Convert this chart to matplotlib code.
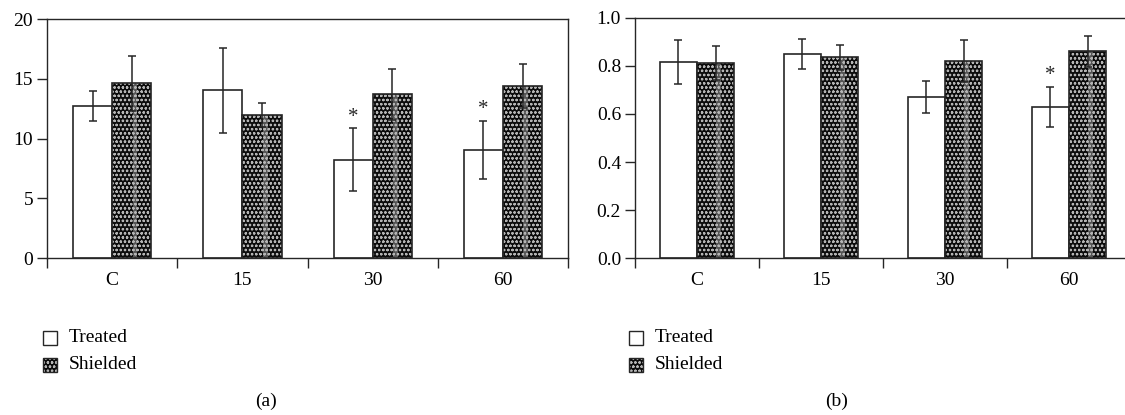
import matplotlib.pyplot as plt
import numpy as np

plt.rcParams['font.family'] = ['Liberation Serif', 'DejaVu Serif']
plt.rcParams['hatch.linewidth'] = 0.6

groups = ["C", "15", "30", "60"]

# panel (a)
treated_a = [12.75, 14.05, 8.25, 9.05]
treated_a_err = [1.25, 3.55, 2.65, 2.45]
shielded_a = [14.65, 11.95, 13.7, 14.4]
shielded_a_err = [2.3, 1.0, 2.15, 1.85]
stars_a = [False, False, True, True]

# panel (b)
treated_b = [0.815, 0.85, 0.67, 0.63]
treated_b_err = [0.092, 0.063, 0.068, 0.084]
shielded_b = [0.811, 0.837, 0.821, 0.86]
shielded_b_err = [0.071, 0.052, 0.088, 0.063]
stars_b = [False, False, False, True]

dark = "#262626"
width = 0.3
fs = 14
hatch = "oooo"
hcol = "#b4b4b4"


def panel(ax, treated, t_err, shielded, s_err, stars, ymax, yticks, fmt):
    x = np.arange(len(groups))
    ax.bar(x - width / 2, treated, width, color="white", edgecolor=dark, linewidth=1.2, zorder=2)
    # shielded: dark fill with fine dotted hatch, plus a faint lighter stripe
    ax.bar(x + width / 2, shielded, width, color="#0c0c0c", edgecolor=hcol,
           hatch=hatch, linewidth=0, zorder=2)
    ax.bar(x + width / 2 + 0.025, shielded, width * 0.12, color="#555555", edgecolor=hcol,
           hatch=hatch, linewidth=0, zorder=2)
    ax.bar(x + width / 2, shielded, width, color="none", edgecolor=dark, linewidth=1.2, zorder=3)
    ax.errorbar(x - width / 2, treated, yerr=t_err, fmt="none", ecolor=dark,
                elinewidth=1.1, capsize=3, capthick=1.1, zorder=4)
    ax.errorbar(x + width / 2, shielded, yerr=s_err, fmt="none", ecolor=dark,
                elinewidth=1.1, capsize=3, capthick=1.1, zorder=4)
    for i in range(len(groups)):
        if stars[i]:
            ax.text(x[i] - width / 2, treated[i] + t_err[i] + ymax * 0.005, "*",
                    ha="center", va="bottom", fontsize=15, color=dark)

    ax.set_xlim(-0.5, len(groups) - 0.5)
    ax.set_ylim(0, ymax)
    ax.set_xticks(x)
    ax.set_xticklabels(groups, fontsize=fs)
    ax.set_xticks(np.arange(len(groups) + 1) - 0.5, minor=True)
    ax.tick_params(axis="x", which="major", length=0, pad=10)
    ax.tick_params(axis="x", which="minor", length=7, width=1, color=dark, direction="out")
    ax.set_yticks(yticks)
    ax.set_yticklabels([fmt.format(v) for v in yticks], fontsize=fs)
    ax.tick_params(axis="y", length=7, width=1, color=dark, direction="out", pad=3)
    for s in ax.spines.values():
        s.set_color(dark)
        s.set_linewidth(1)


fig = plt.figure(figsize=(11.25, 4.15), dpi=100)

ax1 = fig.add_axes([0.0418, 0.378, 0.4632, 0.576])
panel(ax1, treated_a, treated_a_err, shielded_a, shielded_a_err, stars_a,
      20, [0, 5, 10, 15, 20], "{:.0f}")

ax2 = fig.add_axes([0.5644, 0.378, 0.4409, 0.579])
panel(ax2, treated_b, treated_b_err, shielded_b, shielded_b_err, stars_b,
      1.0, [0.0, 0.2, 0.4, 0.6, 0.8, 1.0], "{:.1f}")

# legends drawn as patches + text in figure coords
for lx, cap, cx in [(43, "(a)", 266), (629, "(b)", 837)]:
    fig.patches.append(plt.Rectangle((lx / 1125, 1 - 345 / 415), 14 / 1125, 14 / 415,
                                     transform=fig.transFigure, facecolor="white",
                                     edgecolor=dark, linewidth=1))
    fig.patches.append(plt.Rectangle((lx / 1125, 1 - 372 / 415), 14 / 1125, 14 / 415,
                                     transform=fig.transFigure, facecolor="#0c0c0c",
                                     edgecolor=hcol, hatch=hatch, linewidth=0))
    fig.patches.append(plt.Rectangle((lx / 1125, 1 - 372 / 415), 14 / 1125, 14 / 415,
                                     transform=fig.transFigure, facecolor="none",
                                     edgecolor=dark, linewidth=1))
    fig.text((lx + 26) / 1125, 1 - 337 / 415, "Treated", fontsize=fs, va="center")
    fig.text((lx + 26) / 1125, 1 - 364 / 415, "Shielded", fontsize=fs, va="center")
    fig.text(cx / 1125, 1 - 401 / 415, cap, fontsize=fs, ha="center", va="center")

fig.savefig("out.png", dpi=100)
